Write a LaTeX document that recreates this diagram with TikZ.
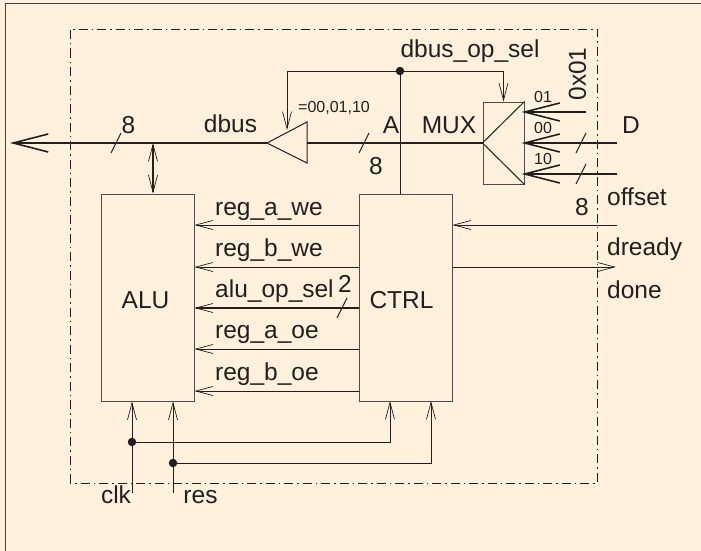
\documentclass[tikz,border=0pt]{standalone}
\usepackage{fontspec}
\setmainfont{Liberation Sans}
\usetikzlibrary{calc,arrows.meta}
\definecolor{paper}{HTML}{FFF1DC}
\definecolor{ink}{HTML}{231F20}
\tikzset{
  wire/.style={draw=ink, line width=1pt},
  bus/.style={draw=ink, line width=2pt},
  sigarrow/.style={wire, -{Straight Barb[length=17pt,width=9pt,line width=0.7pt]}},
  busarrow/.style={bus, -{Straight Barb[length=35pt,width=18pt,line width=1.6pt]}},
  block/.style={draw=ink!80, line width=1pt, inner sep=0pt, text=ink},
  lbl/.style={text=ink, inner sep=0pt, anchor=base, font=\fontsize{24.5}{27}\selectfont},
  small/.style={text=ink, inner sep=0pt, anchor=base, font=\fontsize{16}{18}\selectfont},
  dot/.style={circle, fill=ink, inner sep=0pt, minimum size=8.5pt},
}
\begin{document}
\begin{tikzpicture}[x=1pt,y=-1pt]
  \useasboundingbox (0,0) rectangle (701,551);
  \fill[paper] (0,0) rectangle (701,551);
  \draw[ink!85, line width=0.8pt] (5.5,553) -- (5.5,3.5) -- (703,3.5);
  \draw[ink, line width=0.8pt, dash pattern=on 9pt off 4pt on 1.5pt off 4pt] (70,483) -- (70,29) -- (597,29) -- (597,483) -- cycle;

  % blocks
  \node[block, minimum width=93pt, minimum height=207pt] (alu) at (147.5,297.5) {};
  \node[block, minimum width=93pt, minimum height=207pt] (ctrl) at (405.5,297.5) {};
  \node[block, minimum width=41pt, minimum height=82pt] (mux) at (503.5,143) {};
  \node[lbl] (lalu) at (145.5,308) {ALU};
  \node[lbl] (lctrl) at (401.5,308) {CTRL};
  \coordinate (muxtip) at (mux.west);
  \draw[wire] (mux.north east) -- (muxtip) -- (mux.south east);

  % driver
  \coordinate (drvout) at (267,143);
  \coordinate (drvup) at (307,122);
  \coordinate (drvdown) at (307,163);
  \coordinate (drvin) at (307,143);
  \draw[wire] (drvout) -- (drvup) -- (drvdown) -- cycle;

  % data bus
  \coordinate (dbusend) at (10,143);
  \coordinate (aluport) at (153,143);
  \draw[busarrow] (drvout) -- (dbusend);
  \draw[bus] (muxtip) -- (drvin);
  \draw[wire, {Straight Barb[length=17pt,width=9pt,line width=0.7pt]}-{Straight Barb[length=17pt,width=9pt,line width=0.7pt]}, line width=1.3pt] (aluport) -- (aluport |- alu.north);

  % select line
  \node[dot] (seldot) at (400,71) {};
  \coordinate (drvsel) at (287,130);
  \draw[wire] (ctrl.north -| seldot) -- (seldot);
  \draw[sigarrow] (seldot) -| (drvsel);
  \draw[sigarrow] (seldot) -| ($(mux.north west)!0.5!(mux.north east)$);

  % mux inputs
  \coordinate (inup) at (586,112);
  \coordinate (inmid) at (617,143);
  \coordinate (inlow) at (617,174);
  \draw[busarrow, shorten >=-3pt] (inup) -- (inup -| mux.east);
  \draw[busarrow, shorten >=-3pt] (inmid) -- (inmid -| mux.east);
  \draw[busarrow, shorten >=-3pt] (inlow) -- (inlow -| mux.east);

  % bus ticks
  \foreach \tx/\ty in {116/143, 364/143, 581/143, 581/174, 342/308}
    \draw[wire] (\tx-5,\ty+10) -- (\tx+5,\ty-10);

  % control signals
  \foreach \sy/\sname/\sw in {225/rawe/wire, 267/rbwe/wire, 308/opsel/bus, 349/raoe/wire, 391/rboe/wire}{
    \coordinate (\sname) at (ctrl.west |- 0,\sy);
    \draw[\sw, -{Straight Barb[length=17pt,width=9pt,line width=0.7pt]}] (\sname) -- (\sname -| alu.east);
  }
  \coordinate (drdy) at (617,225);
  \coordinate (dne) at (616,267);
  \draw[sigarrow] (drdy) -- (drdy -| ctrl.east);
  \draw[sigarrow] (dne -| ctrl.east) -- (dne);

  % clock and reset
  \coordinate (clkin) at (132,493);
  \coordinate (resin) at (173,493);
  \node[dot] (clkdot) at (132,442) {};
  \node[dot] (resdot) at (173,463) {};
  \draw[sigarrow] (clkin) -- (clkin |- alu.south);
  \draw[sigarrow] (resin) -- (resin |- alu.south);
  \draw[sigarrow] (clkdot) -| (390,401);
  \draw[sigarrow] (resdot) -| (431,401);

  % labels
  \node[lbl] (ldbus) at (230.5,132) {dbus};
  \node[lbl] (leighta) at (128.5,133) {8};
  \node[lbl] (leightb) at (376,174) {8};
  \node[lbl] (leightc) at (582,215) {8};
  \node[lbl] (la) at (391,133) {A};
  \node[lbl] (lmux) at (449,133) {MUX};
  \node[lbl] (ld) at (631,133) {D};
  \node[lbl] (lsel) at (470,58) {dbus\_op\_sel};
  \node[lbl, rotate=90, anchor=center] (lconst) at (577.5,74) {0x01};
  \node[small] (lcases) at (334,112) {=00,01,10};
  \node[small] (lzo) at (543,102) {01};
  \node[small] (lzz) at (543,133) {00};
  \node[small] (loz) at (543,164) {10};
  \node[lbl, anchor=base west] (loff) at (607,205) {offset};
  \node[lbl, anchor=base west] (ldrdy) at (607,255) {dready};
  \node[lbl, anchor=base west] (ldone) at (607,298) {done};
  \node[lbl, anchor=base west] (l1) at (215,215) {reg\_a\_we};
  \node[lbl, anchor=base west] (l2) at (215,256) {reg\_b\_we};
  \node[lbl, anchor=base west] (l3) at (215,297) {alu\_op\_sel};
  \node[lbl, anchor=base west] (l4) at (215,338) {reg\_a\_oe};
  \node[lbl, anchor=base west] (l5) at (215,380) {reg\_b\_oe};
  \node[lbl] (ltwo) at (345,292) {2};
  \node[lbl] (lclk) at (116,503) {clk};
  \node[lbl] (lres) at (200.5,503) {res};
\end{tikzpicture}
\end{document}
